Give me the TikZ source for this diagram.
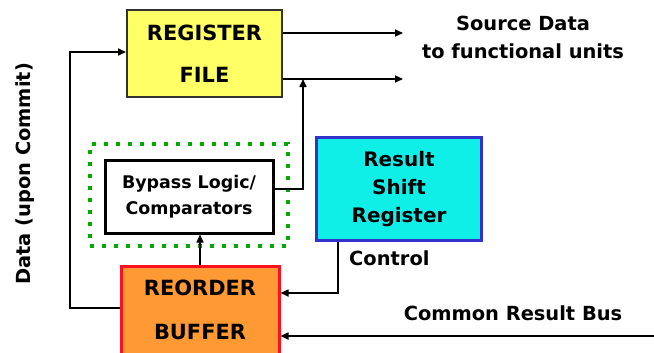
\documentclass[tikz,border=0pt]{standalone}
\usepackage{fontspec}
\setmainfont{DejaVu Sans}
\usetikzlibrary{arrows.meta}
\definecolor{rfyellow}{HTML}{FFFF66}
\definecolor{roborange}{HTML}{FF9933}
\definecolor{robred}{HTML}{FF1020}
\definecolor{rsrcyan}{HTML}{10EEE8}
\definecolor{rsrblue}{HTML}{3333CC}
\definecolor{dotgreen}{HTML}{00AA00}
\tikzset{
  unitbox/.style={draw, line width=2.5bp, inner sep=0pt, align=center,
    font=\bfseries},
  conn/.style={line width=1.6bp, -{Triangle[length=8bp,width=7bp]}},
  lbl/.style={font=\bfseries\fontsize{19.5}{28}\selectfont, inner sep=0pt, align=center},
}
\begin{document}
\begin{tikzpicture}[x=1bp, y=-1bp]
\useasboundingbox (0,0) rectangle (654,352);

% register file
\node[unitbox, draw=black!80, fill=rfyellow, line width=2bp,
      minimum width=155bp, minimum height=87bp,
      font=\bfseries\fontsize{21}{42}\selectfont] (rf) at (204.5,53.5) {REGISTER\\FILE};

% bypass logic inside the dotted group
\node[draw=dotgreen, line width=4bp, dash pattern=on 4bp off 8bp,
      minimum width=198bp, minimum height=102bp, inner sep=0pt] (grp) at (188.5,195) {};
\node[unitbox, fill=white, line width=3bp,
      minimum width=168bp, minimum height=73bp,
      font=\bfseries\fontsize{17.5}{26}\selectfont] (byp) at (189,196.5) {Bypass Logic/\\Comparators};

% result shift register
\node[unitbox, draw=rsrblue, fill=rsrcyan, line width=3.5bp,
      minimum width=165bp, minimum height=103bp,
      font=\bfseries\fontsize{20}{28.5}\selectfont] (rsr) at (399,189) {Result\\Shift\\Register};

% reorder buffer
\node[unitbox, draw=robred, fill=roborange, line width=3bp,
      minimum width=158bp, minimum height=88bp,
      font=\bfseries\fontsize{21}{44}\selectfont] (rob) at (200,310) {REORDER\\BUFFER};

% free ends and corners
\coordinate (out1) at (403,33);
\coordinate (out2) at (403,79);
\coordinate (byptap) at (303,79);
\coordinate (commit) at (70,308);
\coordinate (ctrl) at (338,293);
\coordinate (crb) at (656,336);

% source data outputs
\draw[conn] (out1 -| rf.east) -- (out1);
\draw[conn] (out2 -| rf.east) -- (out2);
\draw[conn] (byp.east |- 0,189) -| (byptap);

% commit path back into the register file
\draw[conn] (commit -| rob.west) -- (commit) |- (rf.west |- 0,52);

% reorder buffer feeds the comparators
\draw[conn] (rob.north -| 200,0) -- (byp.south -| 200,0);

% control from the shift register
\draw[conn] (rsr.south -| ctrl) |- (rob.east |- ctrl);

% common result bus
\draw[conn] (crb) -- (rob.east |- crb);

% labels
\node[lbl] (src) at (523,37) {Source Data\\to functional units};
\node[lbl, anchor=west] (ctl) at (349,258) {Control};
\node[lbl] (bus) at (513,313) {Common Result Bus};
\node[lbl, rotate=90] (dat) at (25,174) {Data (upon Commit)};
\end{tikzpicture}
\end{document}
